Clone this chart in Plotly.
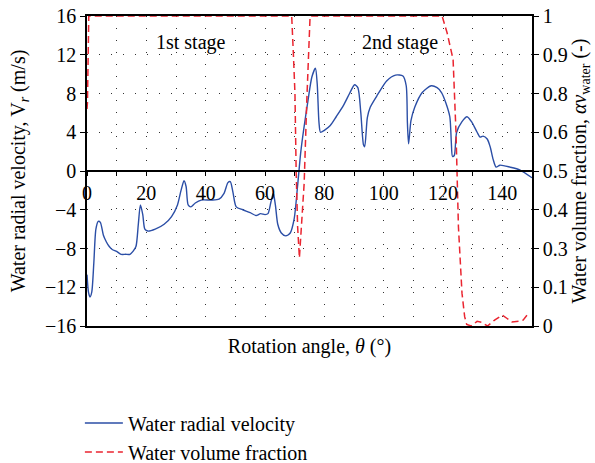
import plotly.graph_objects as go

# Water radial velocity (m/s) vs rotation angle (deg)
theta_v = [0, 0.5, 1.0, 1.6, 2.3, 3.0, 3.8, 4.5, 5.5, 6.5, 7.5, 8.5, 10, 11.5, 13, 14.5,
           15.5, 16.5, 17.3, 18.0, 18.8, 19.5, 20.5, 23, 26, 28.5, 30.5, 31.7, 32.7, 33.4,
           34.1, 35, 36.5, 38.5, 42, 44.5, 46.2, 47.5, 48.3, 49.2, 50.3, 52.5, 55, 57,
           58.5, 60, 61, 62, 62.8, 63.5, 64.3, 65.5, 67, 68.5, 69.8, 71, 72, 73, 74.5,
           75.8, 77.0, 77.6, 78.2, 78.7, 80, 82, 84, 86.5, 88.5, 90.2, 91.3, 92.3, 93.2,
           93.6, 94.5, 95.5, 98, 101, 104, 106.5, 107.6, 108.0, 108.4, 109.2, 110.5, 113,
           116, 118, 119.5, 121, 122.3, 122.8, 123.2, 123.8, 124.6, 126.4, 128.1, 129.8,
           131.5, 132.5, 133.5, 134.9, 135.9, 136.9, 137.9, 139.2, 142.6, 146, 150]
velocity = [-10.7, -12.5, -13.0, -12.5, -9.5, -6.0, -5.2, -5.3, -6.6, -7.3, -7.8, -8.1, -8.3,
            -8.6, -8.6, -8.6, -8.3, -7.8, -5.5, -3.5, -4.5, -6.0, -6.2, -6.0, -5.5, -4.7,
            -3.5, -2.0, -1.0, -1.6, -3.5, -3.7, -3.3, -3.0, -3.0, -2.9, -2.3, -1.2, -1.1,
            -2.2, -3.7, -4.0, -4.3, -4.6, -4.4, -4.5, -4.4, -3.2, -2.3, -3.5, -5.5, -6.4,
            -6.7, -6.4, -5.0, -1.5, 1.8, 4.2, 7.3, 9.7, 10.6, 9.0, 5.0, 4.0, 4.2, 4.7, 5.6,
            6.8, 8.0, 8.9, 8.6, 6.0, 2.7, 2.5, 5.5, 6.6, 7.9, 9.3, 9.9, 9.8, 8.8, 5.0, 2.8,
            5.2, 6.6, 8.1, 8.8, 8.6, 8.1, 7.0, 5.6, 3.0, 1.5, 1.6, 4.0, 5.1, 5.6, 5.0, 4.0,
            3.5, 3.6, 3.3, 2.5, 1.2, 0.4, 0.6, 0.4, 0.1, -0.7]

# Water volume fraction (position on the right axis, 0..1)
theta_f = [0, 0.15, 0.6, 1.5, 69.0, 69.6, 70.1, 70.5, 71.0, 71.6, 72.4, 73.2, 74.1, 75.2,
           119.7, 121.4, 123.4, 124.4, 125.2, 126.4, 127.3, 128.0, 129.5, 131.5, 133, 135,
           137.5, 140, 141.5, 143.3, 145.5, 147, 148.3]
fraction = [0.70, 0.72, 1.0, 1.0, 1.0, 0.87, 0.75, 0.5, 0.32, 0.22, 0.34, 0.46, 0.73, 1.0,
            1.0, 0.945, 0.86, 0.62, 0.32, 0.106, 0.03, 0.005, 0.0, 0.015, 0.012, 0.0,
            0.02, 0.035, 0.025, 0.013, 0.015, 0.019, 0.035]

left_ticks = [-16, -12, -8, -4, 0, 4, 8, 12, 16]
right_tickvals = [0, 0.125, 0.25, 0.375, 0.5, 0.625, 0.75, 0.875, 1.0]
right_ticktext = ["0", "0.1", "0.3", "0.4", "0.5", "0.6", "0.8", "0.9", "1"]

FONT = "Liberation Serif"
FS = 20
BLUE = "#2b4ea6"
RED = "#ea2530"
GRID = "1px,11px"

fig = go.Figure()
fig.add_trace(go.Scatter(
    x=theta_v, y=velocity, mode="lines", name="Water radial velocity",
    line=dict(color=BLUE, width=1.4, shape="spline", smoothing=0.7),
    xaxis="x", yaxis="y"))
fig.add_trace(go.Scatter(
    x=theta_f, y=fraction, mode="lines", name="Water volume fraction",
    line=dict(color=RED, width=1.5, dash="7px,4px"),
    xaxis="x2", yaxis="y2"))

fig.update_layout(
    width=595, height=463,
    margin=dict(l=87, r=63, t=16, b=137, autoexpand=False),
    paper_bgcolor="white", plot_bgcolor="white",
    font=dict(family=FONT, size=FS, color="black"),
    showlegend=True,
    legend=dict(x=-0.016, y=-0.25, xanchor="left", yanchor="top",
                font=dict(family=FONT, size=FS), itemwidth=38,
                bgcolor="rgba(0,0,0,0)", tracegroupgap=0),
    xaxis=dict(
        range=[0, 150], anchor="free", position=0.5, automargin=False,
        tickmode="linear", tick0=0, dtick=20,
        ticks="outside", ticklen=4, tickcolor="black",
        showline=True, linecolor="black", linewidth=1.5,
        showgrid=True, gridcolor="#333", griddash=GRID, gridwidth=1,
        zeroline=False, ticklabeloverflow="allow",
        minor=dict(dtick=10, ticks="outside", ticklen=4, tickcolor="black",
                   showgrid=True, gridcolor="#333", griddash=GRID, gridwidth=1),
        tickfont=dict(family=FONT, size=FS),
    ),
    xaxis2=dict(
        range=[0, 150], overlaying="x", anchor="y", side="bottom", automargin=False,
        showticklabels=False, ticks="", showgrid=False, zeroline=False,
        showline=True, linecolor="black", linewidth=1.5, mirror=True,
        title=dict(text="Rotation angle, <i>θ</i> (°)", font=dict(family=FONT, size=FS),
                   standoff=12),
    ),
    yaxis=dict(
        range=[-16, 16], tickvals=left_ticks, automargin=False,
        ticks="outside", ticklen=5, tickcolor="black",
        showline=True, linecolor="black", linewidth=1.5,
        showgrid=True, gridcolor="#333", griddash=GRID, gridwidth=1,
        zeroline=False, ticklabeloverflow="allow",
        title=dict(text="Water radial velocity, V<sub><i>r</i></sub> (m/s)",
                   font=dict(family=FONT, size=FS), standoff=14),
        tickfont=dict(family=FONT, size=FS),
    ),
    yaxis2=dict(
        range=[0, 1], overlaying="y", side="right", anchor="x2", automargin=False,
        tickvals=right_tickvals, ticktext=right_ticktext,
        ticks="outside", ticklen=5, tickcolor="black",
        showline=True, linecolor="black", linewidth=1.5,
        showgrid=False, zeroline=False, ticklabeloverflow="allow",
        title=dict(text="Water volume fraction, <i>αv</i><sub>water</sub> (-)",
                   font=dict(family=FONT, size=FS), standoff=4),
        tickfont=dict(family=FONT, size=FS),
    ),
    annotations=[
        dict(x=35, y=13.3, xref="x", yref="y", text="1st stage", showarrow=False,
             font=dict(family=FONT, size=FS)),
        dict(x=105.5, y=13.3, xref="x", yref="y", text="2nd stage", showarrow=False,
             font=dict(family=FONT, size=FS)),
    ],
)

fig.write_html("out.html", config={"displayModeBar": False},
               post_script="document.body.style.margin='0';document.body.style.overflow='hidden';")
